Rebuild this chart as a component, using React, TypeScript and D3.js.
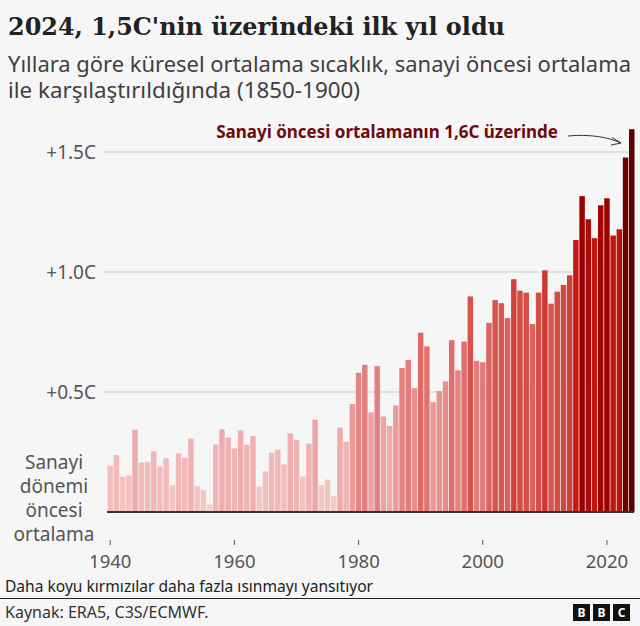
import React from "react";
import * as d3 from "d3";

const years: number[] = d3.range(1940, 2025);
const anomalies: number[] = [
  0.193, 0.237, 0.147, 0.152, 0.343, 0.206, 0.208, 0.253, 0.19, 0.224,
  0.112, 0.244, 0.226, 0.306, 0.108, 0.092, 0.032, 0.281, 0.345, 0.31,
  0.265, 0.34, 0.28, 0.316, 0.106, 0.17, 0.247, 0.26, 0.198, 0.328,
  0.3, 0.148, 0.285, 0.385, 0.112, 0.135, 0.066, 0.352, 0.292, 0.45,
  0.58, 0.613, 0.415, 0.608, 0.398, 0.358, 0.444, 0.6, 0.633, 0.516,
  0.747, 0.69, 0.458, 0.504, 0.544, 0.716, 0.59, 0.71, 0.898, 0.63,
  0.624, 0.788, 0.883, 0.87, 0.808, 0.97, 0.922, 0.914, 0.783, 0.914,
  1.007, 0.868, 0.918, 0.946, 0.986, 1.133, 1.316, 1.22, 1.141, 1.278,
  1.307, 1.152, 1.178, 1.477, 1.595,
];
const yTicks: number[] = [0.5, 1.0, 1.5];
const yTickLabels: string[] = ["+0.5C", "+1.0C", "+1.5C"];
const xTicks: number[] = [1940, 1960, 1980, 2000, 2020];
const baselineLabel: string[] = ["Sanayi", "dönemi", "öncesi", "ortalama"];
const colorStops: number[] = [0, 0.3, 0.5, 0.7, 0.9, 1.0, 1.13, 1.3, 1.48, 1.6];
const colorRange: string[] = [
  "#f8cfcf", "#f1b3b3", "#e99393", "#e07070", "#d6524a", "#cf3c33",
  "#c21a12", "#a00000", "#6c0000", "#580000",
];

const W = 640;
const H = 626;
const SANS = "'Noto Sans', 'Open Sans', sans-serif";

export default function App() {
  const x = d3
    .scaleBand<number>()
    .domain(years)
    .range([107.5, 634.5])
    .paddingInner(0.12)
    .paddingOuter(0);
  const y = d3.scaleLinear().domain([0, 1.5]).range([512, 152]);
  const color = d3
    .scaleLinear<string>()
    .domain(colorStops)
    .range(colorRange)
    .clamp(true);

  const cx = (yr: number) => (x(yr) as number) + x.bandwidth() / 2;

  const arrowPath = d3.path();
  arrowPath.moveTo(568, 136);
  arrowPath.bezierCurveTo(590, 134, 608, 137, 621, 143);

  return (
    <svg
      width={W}
      height={H}
      style={{ position: "absolute", left: 0, top: 0, display: "block" }}
    >
      <rect x={0} y={0} width={W} height={H} fill="#f6f6f6" />
      {/* Title */}
      <text
        x={8}
        y={35}
        fontFamily="'DejaVu Serif', serif"
        fontSize={25}
        fontWeight={700}
        fill="#222"
        textLength={497}
        lengthAdjust="spacingAndGlyphs"
      >
        2024, 1,5C'nin üzerindeki ilk yıl oldu
      </text>
      <text
        x={8}
        y={72}
        fontFamily={SANS}
        fontSize={21}
        fill="#404040"
        textLength={623}
        lengthAdjust="spacingAndGlyphs"
      >
        Yıllara göre küresel ortalama sıcaklık, sanayi öncesi ortalama
      </text>
      <text
        x={8}
        y={98}
        fontFamily={SANS}
        fontSize={21}
        fill="#404040"
        textLength={352}
        lengthAdjust="spacingAndGlyphs"
      >
        ile karşılaştırıldığında (1850-1900)
      </text>

      {/* Gridlines */}
      {yTicks.map((t, i) => (
        <g key={t}>
          <line
            x1={104}
            x2={634}
            y1={y(t)}
            y2={y(t)}
            stroke="#cccccc"
            strokeWidth={1}
          />
          <text
            x={96}
            y={y(t)}
            dy="0.35em"
            textAnchor="end"
            fontFamily={SANS}
            fontSize={19}
            fill="#555"
          >
            {yTickLabels[i]}
          </text>
        </g>
      ))}

      {/* Baseline label */}
      {baselineLabel.map((s, i) => (
        <text
          key={s}
          x={54}
          y={462 + i * 24}
          dy="0.35em"
          textAnchor="middle"
          fontFamily={SANS}
          fontSize={19}
          fill="#555"
        >
          {s}
        </text>
      ))}

      {/* Bars */}
      {years.map((yr, i) => (
        <rect
          key={yr}
          x={x(yr)}
          width={x.bandwidth()}
          y={y(anomalies[i])}
          height={y(0) - y(anomalies[i])}
          fill={color(anomalies[i])}
        />
      ))}

      {/* Baseline */}
      <line x1={107} x2={634} y1={512} y2={512} stroke="#333" strokeWidth={2} />

      {/* X ticks */}
      {xTicks.map((t) => (
        <g key={t}>
          <line
            x1={cx(t)}
            x2={cx(t)}
            y1={540}
            y2={545}
            stroke="#555"
            strokeWidth={1}
          />
          <text
            x={cx(t)}
            y={562}
            dy="0.35em"
            textAnchor="middle"
            fontFamily={SANS}
            fontSize={18.5}
            fill="#555"
          >
            {t}
          </text>
        </g>
      ))}

      {/* Annotation */}
      <text
        x={558}
        y={132}
        dy="0.35em"
        textAnchor="end"
        fontFamily={SANS}
        fontSize={17}
        fontWeight={700}
        fill="#6e0a0a"
      >
        Sanayi öncesi ortalamanın 1,6C üzerinde
      </text>
      <path
        d={arrowPath.toString()}
        fill="none"
        stroke="#333"
        strokeWidth={1}
      />
      <path
        d="M612,137.5 L621,143 L611,145"
        fill="none"
        stroke="#333"
        strokeWidth={1}
      />

      {/* Footer */}
      <text
        x={5}
        y={587}
        dy="0.35em"
        fontFamily={SANS}
        fontSize={15.5}
        fill="#222"
        textLength={368}
        lengthAdjust="spacingAndGlyphs"
      >
        Daha koyu kırmızılar daha fazla ısınmayı yansıtıyor
      </text>
      <line x1={0} x2={W} y1={598.5} y2={598.5} stroke="#222" strokeWidth={1} />
      <text x={5} y={612} dy="0.35em" fontFamily={SANS} fontSize={16} fill="#333">
        Kaynak: ERA5, C3S/ECMWF.
      </text>
      {["B", "B", "C"].map((l, i) => (
        <g key={i}>
          <rect x={573 + i * 20} y={604} width={17} height={17} fill="#111" />
          <text
            x={573 + i * 20 + 8.5}
            y={612.5}
            dy="0.35em"
            textAnchor="middle"
            fontFamily={SANS}
            fontSize={12}
            fontWeight={700}
            fill="#fff"
          >
            {l}
          </text>
        </g>
      ))}
    </svg>
  );
}
